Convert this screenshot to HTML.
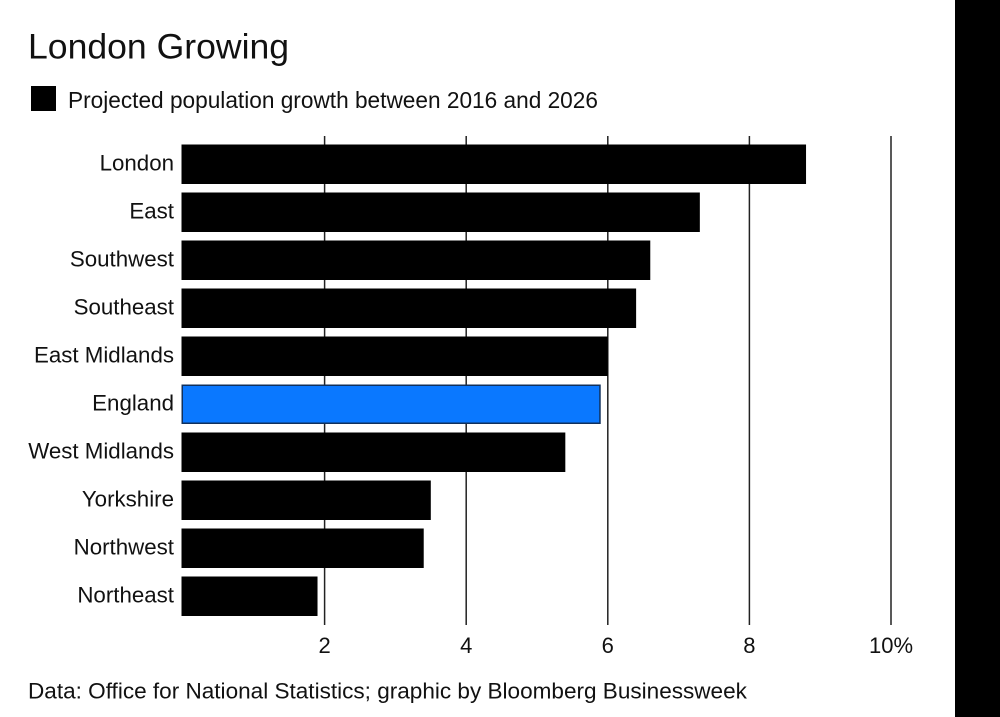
<!DOCTYPE html>
<html>
<head>
<meta charset="utf-8">
<style>
html,body{margin:0;padding:0;background:#fff;width:1000px;height:717px;overflow:hidden}
svg{display:block}
text{font-family:"Liberation Sans",sans-serif;fill:#111}
</style>
</head>
<body>
<svg id="chart" width="1000" height="717" viewBox="0 0 1000 717" xmlns="http://www.w3.org/2000/svg">
<rect x="955" y="0" width="45" height="717" fill="#000"/>
<text x="28" y="58.5" font-size="35.6">London Growing</text>
<rect x="31" y="86" width="25" height="25" fill="#000"/>
<text x="68" y="108" font-size="22.65">Projected population growth between 2016 and 2026</text>
<text x="28" y="698.5" font-size="22.55">Data: Office for National Statistics; graphic by Bloomberg Businessweek</text>
<g id="grid"></g>
<g id="bars"></g>
<g id="cats"></g>
<g id="ticks"></g>
</svg>
<script>
var categories = ["London","East","Southwest","Southeast","East Midlands","England","West Midlands","Yorkshire","Northwest","Northeast"];
var values = [8.8,7.3,6.6,6.4,6.0,5.9,5.4,3.5,3.4,1.9];
var tickValues = [2,4,6,8,10];
var tickLabels = ["2","4","6","8","10%"];
var highlight = "England";

var NS = "http://www.w3.org/2000/svg";
function x(v){ return 183 + 70.8 * v; }
function y(i){ return 144.5 + 48 * i; }
var bandH = 39.5;

var grid = document.getElementById("grid");
var ticks = document.getElementById("ticks");
tickValues.forEach(function(t,i){
  var l = document.createElementNS(NS,"line");
  
  
  l.setAttribute("x1",x(t)); l.setAttribute("x2",x(t));
  l.setAttribute("y1",136); l.setAttribute("y2",625);
  l.setAttribute("stroke","#222"); l.setAttribute("stroke-width","1.5");
  grid.appendChild(l);
  var s = document.createElementNS(NS,"text");
  
  
  s.setAttribute("x",x(t)); s.setAttribute("y",653);
  s.setAttribute("font-size","22");
  s.setAttribute("text-anchor","middle");
  s.textContent = tickLabels[i];
  ticks.appendChild(s);
});

var bars = document.getElementById("bars");
var cats = document.getElementById("cats");
categories.forEach(function(c,i){
  var r = document.createElementNS(NS,"rect");
  var hl = c === highlight;
  var inset = hl ? 0.75 : 0;
  
  
  r.setAttribute("x",181.5 + inset);
  r.setAttribute("y",y(i) + inset);
  r.setAttribute("width",x(values[i]) - 181.5 - 2 * inset);
  r.setAttribute("height",bandH - 2 * inset);
  r.setAttribute("fill",hl ? "#0a78ff" : "#000");
  if(hl){
    r.setAttribute("stroke","#10305c");
    r.setAttribute("stroke-width","1.5");
  }
  bars.appendChild(r);
  var s = document.createElementNS(NS,"text");
  
  
  s.setAttribute("x",174);
  s.setAttribute("y",y(i) + 25.8);
  s.setAttribute("font-size","22.3");
  s.setAttribute("text-anchor","end");
  s.textContent = c;
  cats.appendChild(s);
});
</script>
</body>
</html>
